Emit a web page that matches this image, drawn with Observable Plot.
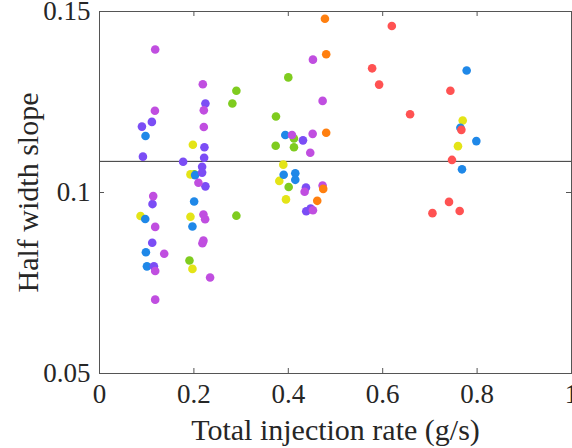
<!DOCTYPE html>
<html><head><meta charset="utf-8">
<script src="https://cdn.jsdelivr.net/npm/d3@7"></script>
<script src="https://cdn.jsdelivr.net/npm/@observablehq/plot@0.6"></script>
<style>
body{margin:0;background:#fff;}
#chart svg, #chart svg text{font-family:"Liberation Serif","Times New Roman",serif !important;}
</style>
</head><body><div id="chart"></div>
<script>
const seriesNames = ["S1", "S2", "S3", "S4", "S5", "S6", "S7"];
const seriesColors = ["#7fcc1f", "#e4e417", "#1f88e8", "#7b4df5", "#c04ee0", "#ff7f0f", "#ff5252"];

const greenX = [0.290, 0.2815, 0.201, 0.290, 0.1906, 0.400, 0.3739, 0.412, 0.3733, 0.412, 0.4008];
const greenY = [0.1281, 0.1246, 0.1050, 0.0936, 0.0812, 0.1318, 0.1210, 0.1149, 0.1129, 0.1125, 0.1015];

const yellowX = [0.1978, 0.1927, 0.0869, 0.1927, 0.1969, 0.3894, 0.3809, 0.3951, 0.7695, 0.7595];
const yellowY = [0.1132, 0.1050, 0.0935, 0.0933, 0.0789, 0.1077, 0.1032, 0.0981, 0.1199, 0.1128];

const blueX = [0.0975, 0.2026, 0.2005, 0.0969, 0.1969, 0.0983, 0.1005, 0.3936, 0.3902, 0.4148, 0.4148, 0.7779, 0.7646, 0.7984, 0.768];
const blueY = [0.1156, 0.1048, 0.0975, 0.0927, 0.0906, 0.0835, 0.0796, 0.1159, 0.1049, 0.1053, 0.1035, 0.1337, 0.1179, 0.1142, 0.1064];

const purpleX = [0.2244, 0.111, 0.0899, 0.2223, 0.092, 0.1772, 0.2217, 0.2174, 0.2174, 0.2244, 0.1123, 0.1117, 0.1153, 0.4311, 0.4374, 0.4473, 0.438];
const purpleY = [0.1246, 0.1195, 0.1182, 0.1125, 0.1099, 0.1085, 0.1096, 0.1071, 0.1055, 0.1017, 0.0968, 0.0861, 0.0796, 0.1144, 0.1014, 0.0956, 0.0948];

const magentaX = [0.118, 0.2189, 0.1174, 0.221, 0.221, 0.2096, 0.1138, 0.2202, 0.2238, 0.118, 0.1371, 0.2202, 0.2181, 0.118, 0.2343, 0.118, 0.4522, 0.4727, 0.4078, 0.4516, 0.4465, 0.4346, 0.4727, 0.4522];
const magentaY = [0.1395, 0.1299, 0.1226, 0.1227, 0.1181, 0.1027, 0.0990, 0.0939, 0.0926, 0.0905, 0.0831, 0.0867, 0.0860, 0.0783, 0.0765, 0.0704, 0.1367, 0.1253, 0.1159, 0.1162, 0.1110, 0.1002, 0.1019, 0.0951];

const orangeX = [0.4776, 0.4803, 0.4803, 0.474, 0.4613];
const orangeY = [0.1480, 0.1382, 0.1165, 0.1010, 0.0977];

const redX = [0.6193, 0.5776, 0.5924, 0.658, 0.7434, 0.7667, 0.7468, 0.7405, 0.7631, 0.7054];
const redY = [0.1460, 0.1343, 0.1298, 0.1216, 0.1281, 0.1173, 0.1090, 0.0974, 0.0949, 0.0943];

const refLine = 0.1086;
const xTicks = [0, 0.2, 0.4, 0.6, 0.8, 1];
const xTickLabels = ["0", "0.2", "0.4", "0.6", "0.8", "1"];
const yTicks = [0.05, 0.1, 0.15];
const yTickLabels = ["0.05", "0.1", "0.15"];
const xLabel = "Total injection rate (g/s)";
const yLabel = "Half width slope";

const seriesXs = [greenX, yellowX, blueX, purpleX, magentaX, orangeX, redX];
const seriesYs = [greenY, yellowY, blueY, purpleY, magentaY, orangeY, redY];
const rows = [];
seriesNames.forEach((s, k) => seriesXs[k].forEach((x, i) => rows.push({series: s, x, y: seriesYs[k][i]})));

const W = 572, H = 448, mL = 99, mR = 1, mT = 11, mB = 75;
const plotW = W - mL - mR, plotH = H - mT - mB;
const axisColor = "#555";
const font = "'Liberation Serif', 'Times New Roman', serif";

const chart = Plot.plot({
  width: W, height: H,
  marginLeft: mL, marginRight: mR, marginTop: mT, marginBottom: mB,
  style: {fontFamily: font, fontSize: "26px", color: "#262626", background: "#fff"},
  x: {domain: [0, 1]},
  y: {domain: [0.05, 0.15]},
  color: {type: "ordinal", domain: seriesNames, range: seriesColors},
  marks: [
    Plot.ruleY([refLine], {stroke: "#333", strokeWidth: 1}),
    Plot.dot(rows, {x: "x", y: "y", fill: "series", r: 4.3}),
    Plot.frame({stroke: axisColor}),
    Plot.tickX(xTicks, {x: d => d, stroke: axisColor, insetTop: plotH - 5}),
    Plot.tickX(xTicks, {x: d => d, stroke: axisColor, insetBottom: plotH - 5}),
    Plot.tickY(yTicks, {y: d => d, stroke: axisColor, insetRight: plotW - 5}),
    Plot.tickY(yTicks, {y: d => d, stroke: axisColor, insetLeft: plotW - 5}),
    Plot.axisX({ticks: xTicks, tickSize: 0, tickPadding: 10, tickFormat: d => xTickLabels[xTicks.indexOf(d)], label: null, fontSize: 27, fontFamily: font}),
    Plot.axisY({ticks: yTicks, tickSize: 0, tickPadding: 9, tickFormat: d => yTickLabels[yTicks.indexOf(d)], label: null, fontSize: 27, fontFamily: font}),
    Plot.text([xLabel], {text: d => d, frameAnchor: "bottom", textAnchor: "middle", lineAnchor: "top", dy: 45, fontSize: 30, fontFamily: font}),
    Plot.text([yLabel], {text: d => d, frameAnchor: "left", textAnchor: "middle", rotate: -90, lineAnchor: "bottom", dx: -62, fontSize: 30, fontFamily: font})
  ]
});
document.getElementById("chart").appendChild(chart);
</script>
</body></html>
